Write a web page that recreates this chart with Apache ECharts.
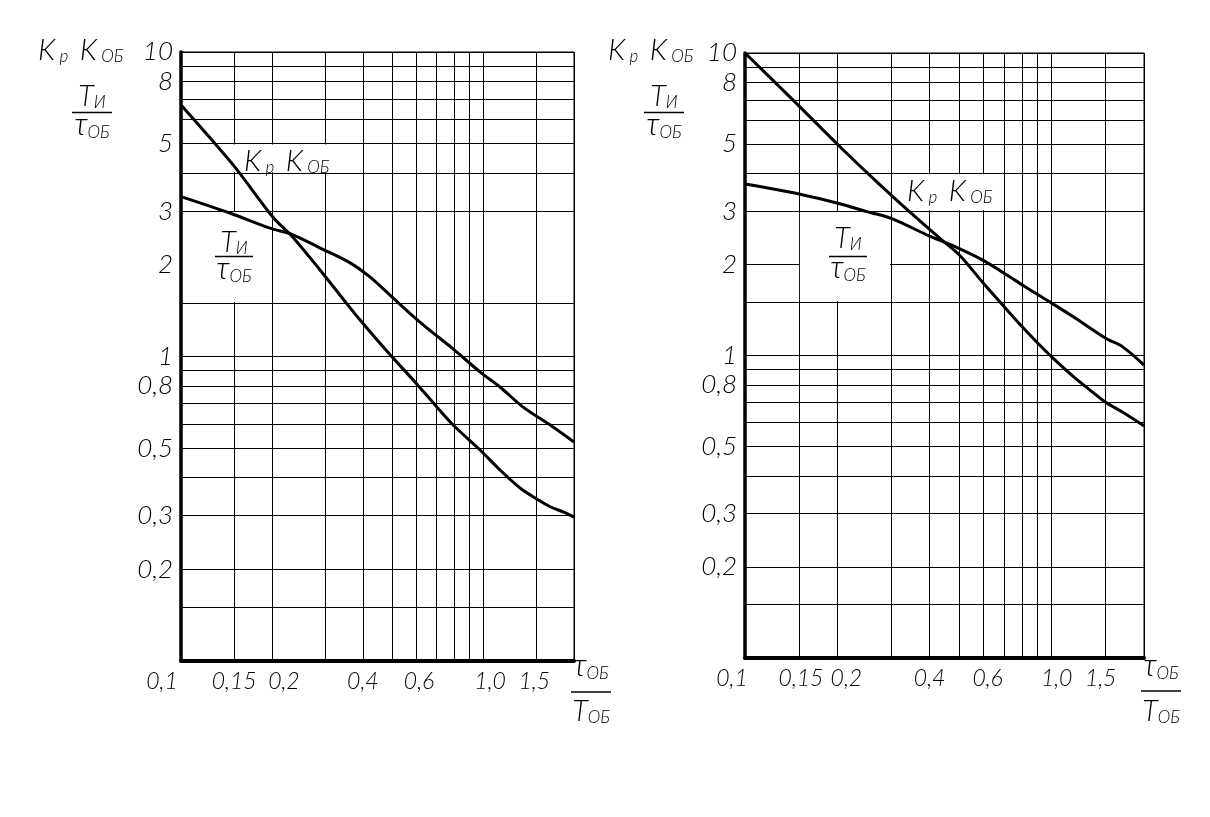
<!DOCTYPE html>
<html><head><meta charset="utf-8">
<script src="https://cdn.jsdelivr.net/npm/echarts@6/dist/echarts.min.js"></script>
<style>html,body{margin:0;padding:0;background:#fff}#c{width:1210px;height:817px}</style>
</head><body><div id="c"></div>
<script>
// ---------------- data ----------------
const xGridValues = [0.1, 0.15, 0.2, 0.3, 0.4, 0.5, 0.6, 0.7, 0.8, 0.9, 1, 1.5, 2];
const xTickValues = [0.1, 0.15, 0.2, 0.4, 0.6, 1, 1.5];
const xTickLabels = ['0,1', '0,15', '0,2', '0,4', '0,6', '1,0', '1,5'];
const yGridLeft = [0.1, 0.15, 0.2, 0.3, 0.4, 0.5, 0.6, 0.7, 0.8, 0.9, 1, 1.5, 3, 4, 5, 6, 7, 8, 9, 10];
const yGridRight = [0.1, 0.15, 0.2, 0.3, 0.4, 0.5, 0.6, 0.7, 0.8, 0.9, 1, 1.5, 2, 3, 4, 5, 6, 7, 8, 9, 10];
const yTickValues = [0.2, 0.3, 0.5, 0.8, 1, 2, 3, 5, 8, 10];
const yTickLabels = ['0,2', '0,3', '0,5', '0,8', '1', '2', '3', '5', '8', '10'];

// left chart: Kp*Kob and Ti/tau_ob versus tau_ob/T_ob
const leftKp = [[0.1,6.7],[0.149,4.25],[0.202,2.86],[0.235,2.46],[0.289,1.92],[0.344,1.545],[0.391,1.32],[0.485,1.03],[0.595,0.825],[0.694,0.693],[0.796,0.596],[0.978,0.493],[1.138,0.424],[1.326,0.37],[1.487,0.343],[1.667,0.321],[1.841,0.309],[2.0,0.297]];
const leftTi = [[0.1,3.35],[0.145,2.96],[0.197,2.64],[0.235,2.51],[0.289,2.27],[0.363,2.03],[0.422,1.825],[0.492,1.59],[0.595,1.34],[0.683,1.195],[0.79,1.066],[0.978,0.889],[1.138,0.794],[1.357,0.682],[1.705,0.587],[2.0,0.524]];
// right chart
const rightKp = [[0.1,10],[0.14,7.16],[0.204,4.9],[0.269,3.75],[0.354,2.91],[0.432,2.44],[0.5,2.15],[0.6,1.73],[0.7,1.45],[0.81,1.23],[0.9,1.1],[1.0,0.99],[1.18,0.85],[1.33,0.77],[1.5,0.7],[1.7,0.65],[2.0,0.585]];
const rightTi = [[0.1,3.69],[0.15,3.42],[0.205,3.17],[0.25,2.99],[0.3,2.84],[0.4,2.48],[0.47,2.32],[0.6,2.06],[0.7,1.87],[0.81,1.7],[0.9,1.59],[1.0,1.49],[1.18,1.34],[1.5,1.14],[1.7,1.07],[2.0,0.93]];

// ---------------- styling ----------------
const FONT = 'Lato, "DejaVu Sans", sans-serif';
const W = 300;
const chart = echarts.init(document.getElementById('c'), null, {renderer: 'canvas'});

function labelFor(values, labels, v) {
  let best = 0, bd = Infinity;
  values.forEach((t, i) => { const d = Math.abs(Math.log(t) - Math.log(v)); if (d < bd) { bd = d; best = i; } });
  return [best, labels[best]];
}

function xAxisDef(gridIndex, shifts) {
  const rich = {};
  shifts.forEach((s, i) => {
    rich['r' + i] = {fontFamily: FONT, fontStyle: 'italic', fontWeight: W, fontSize: 23, color: '#000',
      padding: [0, s < 0 ? -2 * s : 0, 0, s > 0 ? 2 * s : 0]};
  });
  return {
    type: 'log', logBase: 10, gridIndex, min: 0.1, max: 2,
    axisLine: {show: true, onZero: false, lineStyle: {color: '#000', width: 4}},
    axisTick: {show: false, customValues: xGridValues},
    splitLine: {show: true, lineStyle: {color: '#000', width: 1}},
    minorTick: {show: false}, minorSplitLine: {show: false},
    axisLabel: {
      customValues: xTickValues, margin: 9,
      formatter: v => { const [i, t] = labelFor(xTickValues, xTickLabels, v); return '{r' + i + '|' + t + '}'; },
      rich
    }
  };
}
function yAxisDef(gridIndex, grid) {
  return {
    type: 'log', logBase: 10, gridIndex, min: 0.1, max: 10,
    axisLine: {show: true, onZero: false, lineStyle: {color: '#000', width: 3.5}},
    axisTick: {show: false, customValues: grid},
    splitLine: {show: true, lineStyle: {color: '#000', width: 1}},
    minorTick: {show: false}, minorSplitLine: {show: false},
    axisLabel: {
      customValues: yTickValues, margin: 8,
      fontFamily: FONT, fontStyle: 'italic', fontWeight: W, fontSize: 26, color: '#000',
      formatter: v => labelFor(yTickValues, yTickLabels, v)[1]
    }
  };
}

const lineStyle = {color: '#000', width: 3};
function lineSeries(xi, data, boxes) {
  const s = {
    type: 'line', xAxisIndex: xi, yAxisIndex: xi, data, symbol: 'none', showSymbol: false,
    smooth: 0.3, lineStyle, itemStyle: {color: '#000'}, silent: true, animation: false
  };
  if (boxes) {
    s.markArea = {
      silent: true, label: {show: false},
      itemStyle: {color: '#fff', opacity: 1, borderWidth: 0},
      data: boxes.map(b => [{coord: [b[0], b[2]]}, {coord: [b[1], b[3]]}])
    };
  }
  return s;
}

// rich text for graphic labels (zrender style names)
const g = (size, extra) => Object.assign({fontFamily: FONT, fontStyle: 'italic', fontWeight: W, fontSize: size, fill: '#000', verticalAlign: 'bottom'}, extra || {});
const RICH = {
  k: g(29, {lineHeight: 30}),
  s: g(17, {lineHeight: 10}),
  t: g(32, {lineHeight: 22}),
  i: g(17, {lineHeight: 13})
};
function txt(x, y, text, align) {
  return {type: 'text', z: 100, silent: true, x: 0, y: 0,
    style: {x, y, text, rich: RICH, align: align || 'left', verticalAlign: 'middle', textAlign: align || 'left', textVerticalAlign: 'middle', fill: '#000'}};
}
function hline(x1, x2, y) {
  return {type: 'line', z: 100, silent: true, shape: {x1, y1: y, x2, y2: y}, style: {stroke: '#000', lineWidth: 1.3}};
}
const KK = '{k|K}{s| р }{k| K}{s| ОБ}';
function fraction(cx, yTop, yLine, yBot, half, top, bot) {
  return [txt(cx, yTop, top, 'center'), hline(cx - half, cx + half, yLine), txt(cx, yBot, bot, 'center')];
}
const TI = '{k|T}{i|И}';
const TAU = '{t|τ}{s|ОБ}';
const TOB = '{k|T}{s|ОБ}';

const graphic = [
  txt(38, 50, KK), ...fraction(92, 96, 112.5, 130, 20, TI, TAU),
  txt(608, 50, KK), ...fraction(664, 96, 112.5, 130, 20, TI, TAU),
  txt(244, 161, KK), ...fraction(234, 242, 256.5, 274, 19, TI, TAU),
  txt(907, 191, KK), ...fraction(848, 238, 256.5, 273, 19, TI, TAU),
  ...fraction(591, 671, 692, 711, 20, TAU, TOB),
  ...fraction(1161, 671, 691, 711, 20, TAU, TOB)
];

chart.setOption({
  animation: false,
  backgroundColor: '#fff',
  grid: [
    {left: 181, top: 52, width: 393, height: 609, show: true, borderColor: '#000', borderWidth: 1, backgroundColor: 'transparent'},
    {left: 745, top: 53, width: 399, height: 605, show: true, borderColor: '#000', borderWidth: 1, backgroundColor: 'transparent'}
  ],
  xAxis: [xAxisDef(0, [-19, 0, 12, 0, 3, 7, -2]), xAxisDef(1, [-13, 2, 9, 0, 4, 5, -5])],
  yAxis: [yAxisDef(0, yGridLeft), yAxisDef(1, yGridRight)],
  series: [
    lineSeries(0, leftKp, [[0.1025, 0.397, 4.03, 4.97], [0.1025, 0.197, 1.51, 2.98]]),
    lineSeries(0, leftTi),
    lineSeries(1, rightKp, [[0.302, 0.695, 3.02, 3.97], [0.151, 0.297, 1.51, 2.98]]),
    lineSeries(1, rightTi)
  ],
  graphic
});
</script></body></html>
